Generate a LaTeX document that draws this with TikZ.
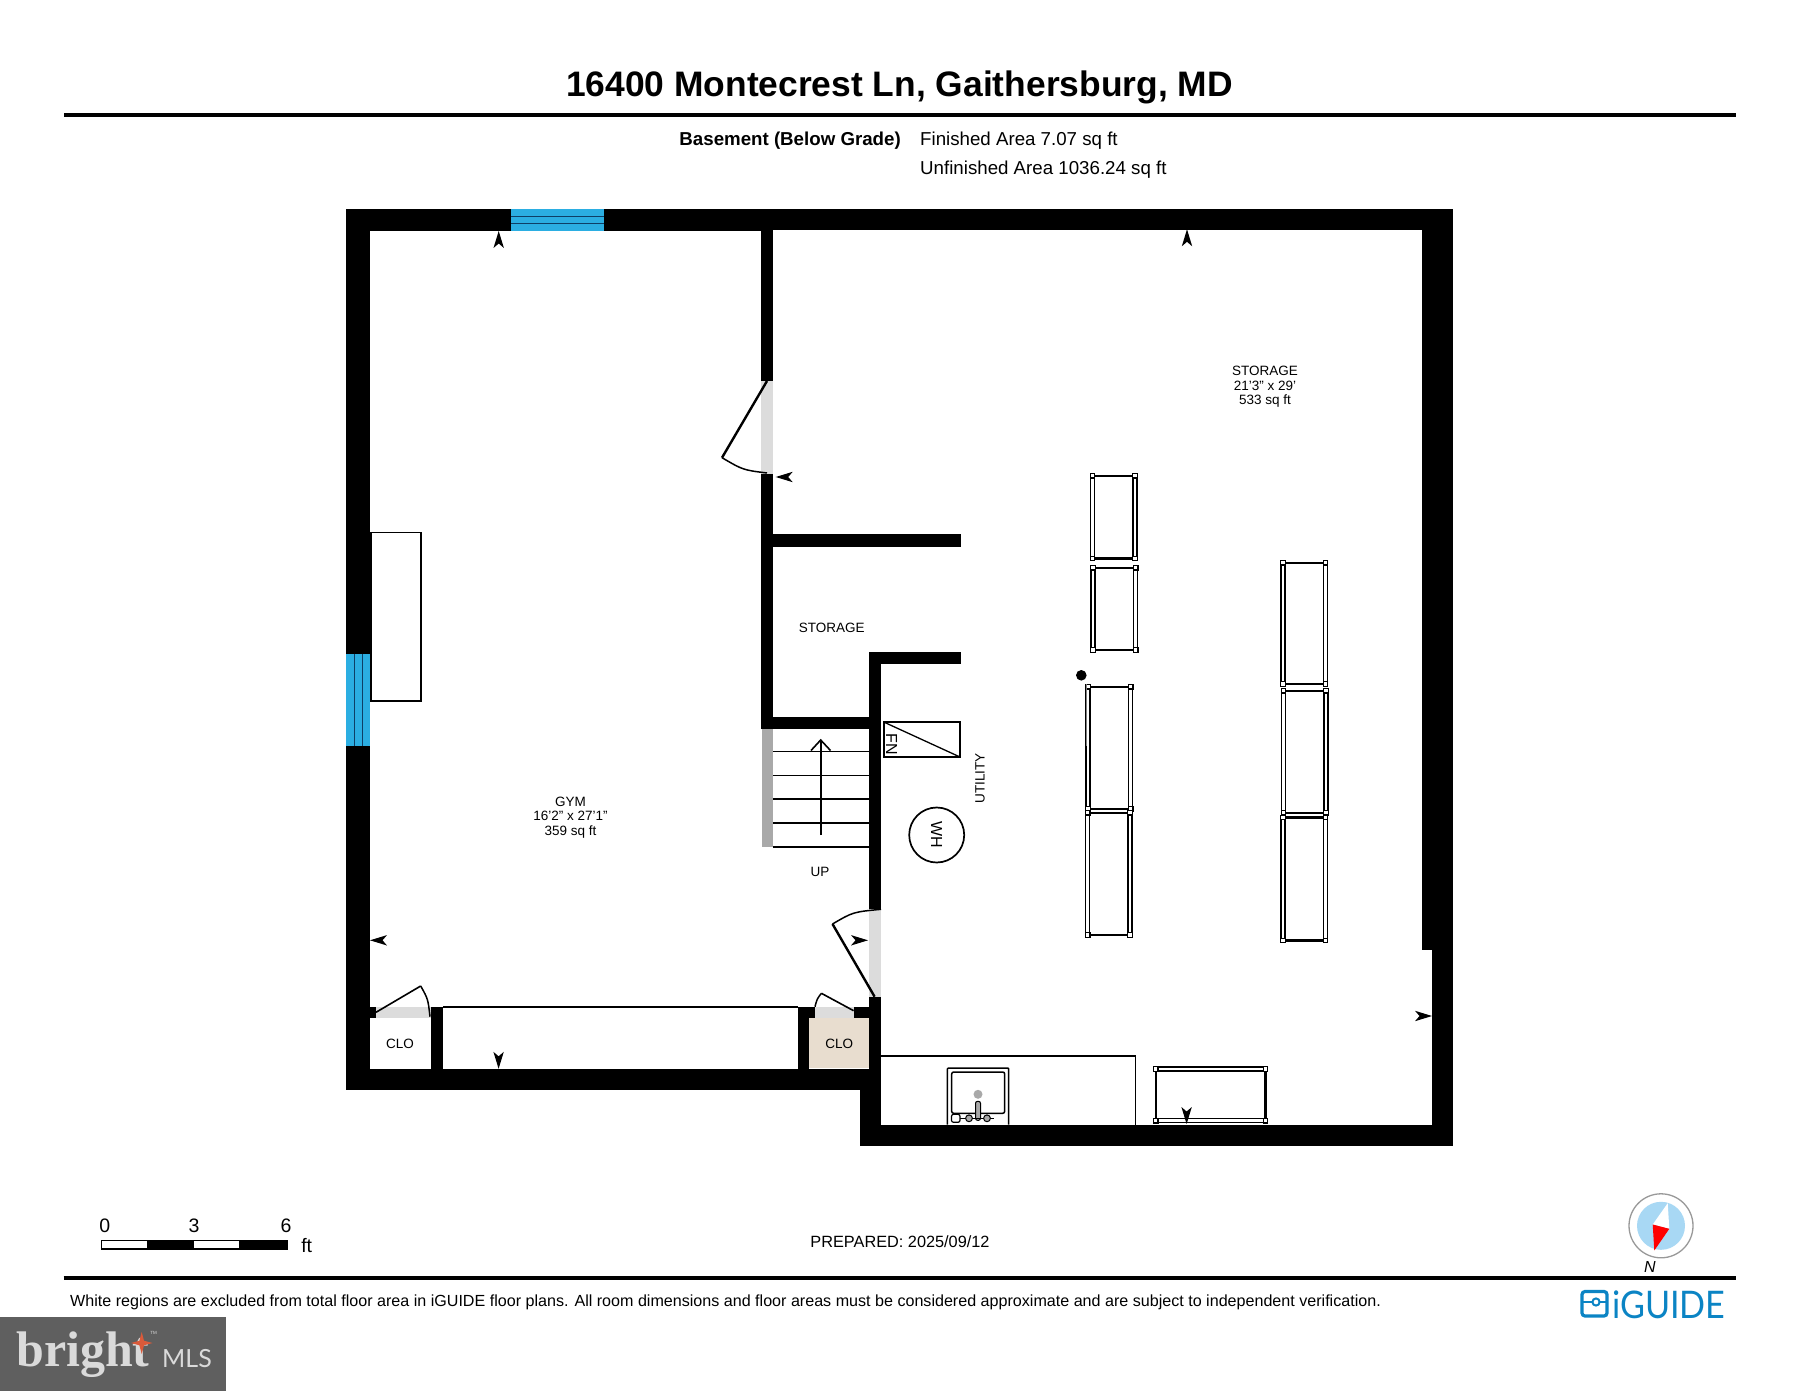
\documentclass[tikz,border=0pt]{standalone}
\usepackage{fontspec}
\setmainfont{Liberation Sans}
\newfontfamily\brightfont{Liberation Serif}
\newfontfamily\mlsfont{Lato}
\definecolor{glassblue}{HTML}{2BAEE2}
\definecolor{glassline}{HTML}{0E3F66}
\definecolor{doorgray}{HTML}{DCDCDC}
\definecolor{stairgray}{HTML}{A9A9A9}
\definecolor{closettan}{HTML}{E8DDCF}
\definecolor{guideblue}{HTML}{0B84C4}
\definecolor{skyblue}{HTML}{A8D8F4}
\definecolor{brightgray}{HTML}{5F5F5F}
\definecolor{brighttext}{HTML}{DADADA}
\definecolor{brightstar}{HTML}{DA5A3A}
\newcommand{\ftmark}{\symbol{39}}
\newcommand{\inmark}{\symbol{34}}
\tikzset{
  wall/.style     = {fill=black},
  glass/.style    = {fill=glassblue},
  glassbar/.style = {draw=glassline, line width=0.9pt},
  doorgap/.style  = {fill=doorgray},
  leaf/.style     = {draw, line width=2.4pt},
  leafthin/.style = {draw, line width=1.6pt},
  swing/.style    = {draw, line width=1.5pt},
  fixture/.style  = {draw, line width=1.7pt},
  label/.style    = {font=\fontsize{13.5}{15}\selectfont, align=center, inner sep=0pt},
  infotext/.style = {font=\fontsize{18.7}{20}\selectfont, inner sep=0pt},
  rail/.style     = {draw, line width=5.2pt},
  railcore/.style = {draw=white, line width=2.6pt},
  railend/.style  = {draw, line width=2.4pt},
  post/.style     = {draw, fill=white, line width=1.2pt},
  viewmark/.pic   = {\fill (0,0) -- (17,5.2) -- (12.5,0) -- (17,-5.2) -- cycle;}
}

% one rack: corner posts only
\newcommand{\rackposts}[4]{
  \foreach \px in {#1,#3}
    \foreach \py in {#2,#4}
      \draw[post] (\px-2.2,\py-2.2) rectangle (\px+2.2,\py+2.2);
}

\begin{document}
\begin{tikzpicture}[x=1pt, y=-1pt]
\useasboundingbox (0,0) rectangle (1800,1391);

% header
\node[font=\fontsize{35.4}{37}\selectfont\bfseries, inner sep=0pt] (title) at (899.5,87.5) {16400 Montecrest Ln, Gaithersburg, MD};
\draw[line width=3.6pt] (64,115) -- (1736,115);
\node[infotext, font=\fontsize{18.7}{20}\selectfont\bfseries, anchor=east] (level) at (901,140.3) {Basement (Below Grade)};
\node[infotext, anchor=west] (finished) at (920,140.3) {Finished Area 7.07 sq ft};
\node[infotext, anchor=west] (unfinished) at (920,169.3) {Unfinished Area 1036.24 sq ft};

% closet floor and door gaps under the walls
\fill[closettan] (809,1018) rectangle (869,1068.3);
\fill[doorgap] (761,381) rectangle (773,474);
\fill[doorgap] (375.7,1006.7) rectangle (431,1018);
\fill[doorgap] (815,1006.7) rectangle (853.6,1018);
\fill[doorgap] (869,909.3) rectangle (881,996.7);
\fill[stairgray] (761.7,729) rectangle (772.7,847);

% outer walls
\fill[wall] (346,209) rectangle (511.3,231);
\fill[wall] (604,209) rectangle (761,231);
\fill[wall] (761,209) rectangle (1453,229.6);
\fill[wall] (1421.5,229) rectangle (1453,950);
\fill[wall] (1432,950) rectangle (1453,1145.5);
\fill[wall] (860,1124.5) rectangle (1453,1145.5);
\fill[wall] (860,1068.8) rectangle (881,1145.5);
\fill[wall] (346,209) rectangle (370,653.5);
\fill[wall] (346,746) rectangle (369.6,1089.5);
\fill[wall] (346,1068.8) rectangle (881,1089.5);

% inner walls
\fill[wall] (761,229) rectangle (773,381);
\fill[wall] (761,474) rectangle (773,729);
\fill[wall] (773,534.3) rectangle (960.7,546.7);
\fill[wall] (869,652) rectangle (960.7,663.7);
\fill[wall] (869,652) rectangle (881,909.3);
\fill[wall] (761,716.7) rectangle (881,729);
\fill[wall] (869,996.7) rectangle (881,1124.5);
\fill[wall] (369.6,1006.7) rectangle (375.7,1018);
\fill[wall] (431,1006.7) rectangle (443,1068.8);
\fill[wall] (798,1006.7) rectangle (809.3,1068.8);
\fill[wall] (809,1006.7) rectangle (815,1018);
\fill[wall] (853.6,1006.7) rectangle (869,1018);
\draw[line width=1.4pt] (443,1006.9) -- (798,1006.9);

% windows
\fill[glass] (511.3,209) rectangle (604,231);
\fill[glass] (346,653.5) rectangle (370,746);
\foreach \wy in {216.2,223.8}
  \draw[glassbar] (511.3,\wy) -- (604,\wy);
\foreach \wx in {354,362}
  \draw[glassbar] (\wx,653.5) -- (\wx,746);

% doors
\draw[leaf] (767,381) -- (722,457.7);
\draw[swing] (722,457.7) .. controls (743,470) .. (767,473);
\draw[leaf] (874.6,996.7) -- (832.5,924);
\draw[swing] (832.5,924) .. controls (853,912) .. (881,909.3);
\draw[leafthin] (376,1012.3) -- (420.7,986);
\draw[swing] (420.7,986) .. controls (428,999) .. (430,1016.7);
\draw[leafthin] (853.6,1010.7) -- (821.4,993.3);
\draw[swing] (821.4,993.3) .. controls (817,999) .. (815,1006.7);

% stairs
\foreach \sy in {751.7,775.7,799,823,847}
  \draw[line width=1.5pt] (773,\sy) -- (869,\sy);
\draw[line width=1.6pt] (820.7,835) -- (820.7,740);
\draw[line width=1.6pt] (811,750.5) -- (820.7,740) -- (830.5,750.5);

% fixtures
\draw[fixture] (371,532.5) rectangle (421,701);
\draw[fixture] (883.7,722) rectangle (960,757);
\draw[line width=1.3pt] (883.7,722) -- (960,757);
\node[draw, circle, line width=1.7pt, minimum size=55pt, inner sep=0pt] (heater) at (936.7,835) {};
\draw[line width=1.6pt] (881,1056) -- (1135.6,1056) -- (1135.6,1124.5);

% sink
\draw[line width=1.5pt, rounded corners=1pt] (947.4,1124.5) -- (947.4,1068) -- (1008.7,1068) -- (1008.7,1124.5);
\draw[line width=1.5pt, rounded corners=2pt] (951.7,1072) rectangle (1004.7,1113.3);
\fill[stairgray] (978,1094.3) circle (4.5);
\draw[fill=stairgray, line width=1pt, rounded corners=2pt] (975.5,1101.3) rectangle (980.5,1120.3);
\draw[line width=1.2pt] (956,1118.3) -- (994,1118.3);
\draw[fill=white, line width=1.2pt, rounded corners=2pt] (951.5,1114.3) rectangle (960,1122.3);
\draw[fill=stairgray, line width=1pt] (969,1118.3) circle (3.4);
\draw[fill=stairgray, line width=1pt] (987,1118.3) circle (3.4);

% racks
\foreach \xa/\ya/\xb/\yb in {1092.3/475.7/1135/558.3, 1093/567.7/1135.7/650,
    1088/686.7/1130.7/809, 1087.7/812.7/1130/935,
    1283/562.7/1325.3/684, 1283.3/690.7/1326/812.7, 1283/817.3/1325.3/940.5}{
  \draw[rail] (\xa,\ya) -- (\xa,\yb) (\xb,\ya) -- (\xb,\yb);
  \draw[railcore] (\xa,\ya) -- (\xa,\yb) (\xb,\ya) -- (\xb,\yb);
  \draw[railend] (\xa,\ya) -- (\xb,\ya) (\xa,\yb) -- (\xb,\yb);
  \rackposts{\xa}{\ya}{\xb}{\yb}
}
\draw[rail] (1155.8,1069) -- (1265.3,1069) (1155.8,1120.7) -- (1265.3,1120.7);
\draw[railcore] (1155.8,1069) -- (1265.3,1069) (1155.8,1120.7) -- (1265.3,1120.7);
\draw[railend] (1155.8,1069) -- (1155.8,1120.7) (1265.3,1069) -- (1265.3,1120.7);
\rackposts{1155.8}{1069}{1265.3}{1120.7}
\draw[line width=0.8pt, gray] (1086,684) -- (1086,746);
\fill (1081.3,675.3) circle (5.3);

% view marks
\pic[rotate=270] at (498.7,231) {viewmark};
\pic[rotate=270] at (1187,229.3) {viewmark};
\pic[rotate=0] at (775.7,477) {viewmark};
\pic[rotate=0] at (370,940.3) {viewmark};
\pic[rotate=180] at (868,940.3) {viewmark};
\pic[rotate=90] at (498.6,1068.8) {viewmark};
\pic[rotate=90] at (1186.6,1124) {viewmark};
\pic[rotate=180] at (1432,1016) {viewmark};

% room labels
\node[label] (gym) at (570.6,817.5) {GYM\\[-0.5pt]16\ftmark2\inmark{} x 27\ftmark1\inmark\\[-0.5pt]359 sq ft};
\node[label] (storagea) at (1265,387) {STORAGE\\[-0.5pt]21\ftmark3\inmark{} x 29\ftmark\\[-0.5pt]533 sq ft};
\node[label] (storageb) at (831.7,627.5) {STORAGE};
\node[label] (up) at (820,871.5) {UP};
\node[label, rotate=90] (utility) at (980,778.5) {UTILITY};
\node[label, font=\fontsize{16}{17}\selectfont, rotate=-90] (fn) at (891.5,744) {FN};
\node[label, font=\fontsize{16}{17}\selectfont, rotate=-90] (wh) at (936.7,835) {WH};
\node[label] (cloa) at (400,1044) {CLO};
\node[label] (clob) at (839.3,1044) {CLO};

% scale bar
\draw[line width=1.1pt] (101.5,1240.5) rectangle (287,1249);
\foreach \bx/\bw in {146.7/194, 239/287.3}
  \fill (\bx,1240) rectangle (\bw,1249.5);
\node[infotext, font=\fontsize{19.5}{20}\selectfont] (scalea) at (104.7,1226) {0};
\node[infotext, font=\fontsize{19.5}{20}\selectfont] (scaleb) at (194,1226) {3};
\node[infotext, font=\fontsize{19.5}{20}\selectfont] (scalec) at (286,1226) {6};
\node[infotext, font=\fontsize{19.5}{20}\selectfont] (scaleunit) at (306.7,1246) {ft};
\node[infotext, font=\fontsize{16.3}{18}\selectfont] (prepared) at (900,1242) {PREPARED: 2025/09/12};

% compass
\draw[fill=white, draw=gray!80, line width=1.3pt] (1661,1225.8) circle (32);
\fill[skyblue] (1661,1225.8) circle (24);
\fill[white] (1667.7,1203.2) -- (1652.7,1224.5) -- (1669.3,1228.8) -- cycle;
\fill[red] (1652.7,1224.5) -- (1669.3,1228.8) -- (1654.3,1250.5) -- cycle;
\node[infotext, font=\fontsize{16}{18}\selectfont\itshape] (north) at (1650,1266.5) {N};

% footer
\draw[line width=3.4pt] (63.5,1277.9) -- (1735.5,1277.9);
\node[infotext, font=\fontsize{16.1}{18}\selectfont, anchor=west] (note) at (70,1302.5) {White regions are excluded from total floor area in iGUIDE floor plans. All room dimensions and floor areas must be considered approximate and are subject to independent verification.};

% iguide logo
\draw[guideblue, line width=3.2pt, rounded corners=3pt] (1582,1291.5) rectangle (1607,1316);
\draw[guideblue, line width=2.4pt] (1582,1302) -- (1592,1302) (1600,1302) -- (1607,1302);
\draw[guideblue, line width=2pt] (1596,1302) circle (3.6);
\node[text=guideblue, font=\mlsfont\fontsize{38}{40}\selectfont, inner sep=0pt, anchor=west, xscale=0.9] (guide) at (1612,1305) {iGUIDE};

% mls badge
\fill[brightgray] (0,1317) rectangle (225.7,1391);
\node[text=brighttext, font=\brightfont\bfseries\fontsize{50}{52}\selectfont, inner sep=0pt, anchor=base west] (bright) at (16,1366.7) {bright};
\fill[brightstar] (141.7,1332) -- (144,1340.7) -- (152.5,1343) -- (144,1345.3) -- (141.7,1354) -- (139.4,1345.3) -- (131,1343) -- (139.4,1340.7) -- cycle;
\node[text=brighttext, font=\fontsize{4.5}{5}\selectfont, inner sep=0pt] (trademark) at (153.5,1332.7) {TM};
\node[text=brighttext, font=\mlsfont\fontsize{25}{26}\selectfont, inner sep=0pt, anchor=base west] (mls) at (162,1367) {MLS};
\end{tikzpicture}
\end{document}
